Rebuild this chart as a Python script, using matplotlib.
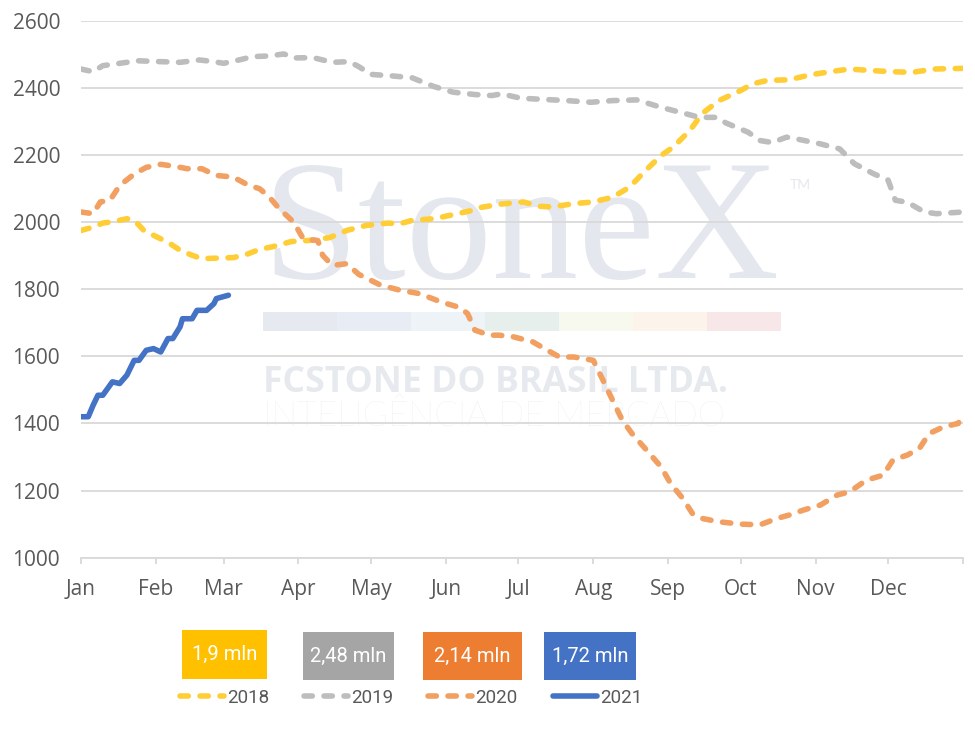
import matplotlib
matplotlib.use("Agg")
import matplotlib.pyplot as plt
from matplotlib import font_manager
from matplotlib.patches import Rectangle

# ---------------- data ----------------
months = ["Jan", "Feb", "Mar", "Apr", "May", "Jun",
          "Jul", "Aug", "Sep", "Oct", "Nov", "Dec"]
month_start_days = [0, 31, 59, 90, 120, 151, 181, 212, 243, 273, 304, 334, 365]
y_ticks = [1000, 1200, 1400, 1600, 1800, 2000, 2200, 2400, 2600]

series_names = ["2018", "2019", "2020", "2021"]
box_labels = ["1,9 mln", "2,48 mln", "2,14 mln", "1,72 mln"]

days_2018 = [0, 5, 9, 13, 19, 22, 26, 33, 37, 41, 46, 50, 58, 63, 69, 74, 79, 87,
             96, 103, 110, 118, 127, 132, 137, 146, 154, 162, 165, 173, 183, 190,
             195, 204, 212, 220, 227, 233, 240, 245, 252, 257, 264, 273, 278, 284,
             293, 302, 311, 318, 328, 336, 344, 353, 365]
vals_2018 = [1975, 1985, 1997, 2001, 2010, 2006, 1975, 1950, 1935, 1916, 1901, 1891,
             1893, 1894, 1905, 1919, 1926, 1942, 1946, 1954, 1975, 1990, 1997, 1995,
             2005, 2010, 2022, 2035, 2043, 2053, 2060, 2047, 2045, 2055, 2060, 2074,
             2104, 2149, 2198, 2223, 2273, 2323, 2362, 2392, 2412, 2422, 2424, 2439,
             2449, 2456, 2451, 2448, 2446, 2456, 2458]

days_2019 = [0, 5, 9, 19, 22, 33, 41, 49, 55, 59, 66, 71, 78, 84, 88, 96, 104, 111,
             115, 120, 128, 137, 146, 154, 163, 170, 174, 182, 190, 201, 211, 220,
             230, 240, 248, 256, 263, 267, 276, 281, 286, 292, 298, 306, 314, 320,
             328, 334, 337, 342, 349, 354, 365]
vals_2019 = [2456, 2448, 2466, 2476, 2481, 2478, 2476, 2483, 2478, 2473, 2484, 2493,
             2495, 2501, 2489, 2490, 2476, 2478, 2463, 2440, 2436, 2430, 2404, 2387,
             2380, 2377, 2382, 2369, 2366, 2362, 2357, 2362, 2364, 2342, 2327, 2312,
             2312, 2295, 2268, 2243, 2237, 2253, 2245, 2233, 2218, 2174, 2144, 2125,
             2065, 2059, 2030, 2025, 2030]

days_2020 = [0, 5, 8, 12, 16, 22, 27, 33, 38, 44, 50, 56, 63, 69, 74, 78, 82, 88, 92,
             98, 100, 104, 110, 115, 124, 132, 140, 149, 157, 160, 163, 169, 173, 179,
             187, 193, 198, 204, 212, 216, 220, 224, 228, 234, 240, 244, 249, 253,
             257, 264, 273, 281, 288, 293, 299, 306, 313, 318, 325, 332, 336, 342,
             347, 351, 357, 363, 365]
vals_2020 = [2030, 2025, 2060, 2065, 2109, 2143, 2163, 2172, 2167, 2159, 2159, 2139,
             2134, 2111, 2099, 2074, 2040, 2000, 1950, 1945, 1901, 1871, 1876, 1844,
             1812, 1797, 1787, 1762, 1745, 1727, 1678, 1663, 1663, 1658, 1643, 1618,
             1598, 1598, 1588, 1529, 1469, 1410, 1370, 1321, 1271, 1221, 1177, 1132,
             1117, 1107, 1100, 1098, 1117, 1127, 1142, 1157, 1187, 1196, 1231, 1246,
             1291, 1306, 1326, 1370, 1390, 1400, 1425]

days_2021 = [0, 3, 5, 7, 9, 12, 13, 16, 19, 22, 24, 27, 30, 33, 36, 38, 41, 42, 46,
             48, 52, 55, 56, 61]
vals_2021 = [1420, 1420, 1454, 1484, 1484, 1514, 1524, 1519, 1544, 1588, 1588, 1618,
             1623, 1613, 1653, 1653, 1688, 1712, 1712, 1737, 1737, 1757, 1772, 1782]

# ---------------- fonts ----------------
available = {f.name for f in font_manager.fontManager.ttflist}
def pick(*names):
    for n in names:
        if n in available:
            return n
    return "DejaVu Sans"

axis_font = pick("Open Sans", "Noto Sans", "DejaVu Sans")
narrow_font = pick("Liberation Sans Narrow", "Roboto", "Open Sans")
serif_font = pick("Liberation Serif", "DejaVu Serif")
wm_font = pick("Open Sans", "Lato", "DejaVu Sans")
wm_light_font = pick("Lato", "Open Sans", "DejaVu Sans")

# ---------------- figure ----------------
W, H = 975, 739
fig = plt.figure(figsize=(W / 100, H / 100), dpi=100)
def fx(x): return x / W
def fy(y): return 1 - y / H

left, right, top, bottom = 81, 963, 20.7, 557.7
ax = fig.add_axes([fx(left), fy(bottom), (right - left) / W, (bottom - top) / H])
ax.set_facecolor("none")

grid_c = "#D9D9D9"
ax.set_xlim(0, 365)
ax.set_ylim(1000, 2600)
ax.set_yticks(y_ticks)
ax.set_yticklabels([str(v) for v in y_ticks], fontfamily=axis_font, fontsize=15, color="#595959")
ax.set_xticks(month_start_days)
ax.set_xticklabels(months + [""], fontfamily=axis_font, fontsize=15, color="#595959")
ax.tick_params(axis="y", length=0, pad=15)
ax.tick_params(axis="x", length=4, width=1.3, color=grid_c, pad=11)
for s in ["top", "left", "right"]:
    ax.spines[s].set_visible(False)
ax.spines["bottom"].set_color(grid_c)
ax.spines["bottom"].set_linewidth(1.3)
ax.set_axisbelow(True)
ax.yaxis.grid(True, color=grid_c, linewidth=1.3)

# ---------------- watermark ----------------
wm = fig.transFigure
t_stone = ax.text(fx(263), fy(278), "StoneX", transform=wm, fontfamily=serif_font,
                  fontsize=123, color="#E4E8EE", ha="left", va="baseline", zorder=0.1)
ax.text(fx(790), fy(189), "TM", transform=wm, fontfamily=wm_light_font,
        fontsize=10, color="#E4E8EE", ha="left", va="baseline", zorder=0.1)
bar_colors = ["#E6E9EF", "#E8EDF5", "#EEF3F8", "#E6EFEC", "#F8F9EE", "#FCF4EA", "#F7E7E8"]
seg_w = (781 - 263) / 7
for i, c in enumerate(bar_colors):
    ax.add_patch(Rectangle((fx(263 + i * seg_w), fy(331)), seg_w / W, (331 - 311.5) / H,
                           transform=wm, facecolor=c, edgecolor="none", zorder=0.1,
                           clip_on=False))
t_fc = ax.text(fx(263), fy(392), "FCSTONE DO BRASIL LTDA.", transform=wm,
               fontfamily=wm_font, fontweight="bold", fontsize=20, color="#E6E9EE",
               ha="left", va="baseline", zorder=0.1)
t_int = ax.text(fx(263), fy(426), "INTELIGÊNCIA DE MERCADO", transform=wm,
                fontfamily=wm_light_font, fontweight="light", fontsize=20, color="#E9ECF0",
                ha="left", va="baseline", zorder=0.1)
renderer = fig.canvas.get_renderer()
for t, target in [(t_stone, 517), (t_fc, 465), (t_int, 462)]:
    w = t.get_window_extent(renderer).width
    t.set_fontsize(t.get_fontsize() * target / w)

# ---------------- lines ----------------
dash = (0, (1.5, 2.1))
lw = 4.0
l18, = ax.plot(days_2018, vals_2018, color="#FFCD36", lw=lw, linestyle=dash,
               dash_capstyle="round", zorder=2)
l19, = ax.plot(days_2019, vals_2019, color="#BDBDBD", lw=lw, linestyle=dash,
               dash_capstyle="round", zorder=2)
l20, = ax.plot(days_2020, vals_2020, color="#F2A062", lw=lw, linestyle=dash,
               dash_capstyle="round", zorder=2.1)
l21, = ax.plot(days_2021, vals_2021, color="#4472C4", lw=lw, linestyle="-",
               solid_capstyle="round", solid_joinstyle="round", zorder=2.2)

# ---------------- boxes ----------------
box_colors = ["#FFC000", "#A5A5A5", "#ED7D31", "#4472C4"]
box_px = [(182, 630, 267, 679), (303, 632, 394, 680), (423, 632, 522, 680), (544, 632, 636, 680)]
for (x0, y0, x1, y1), c, lab in zip(box_px, box_colors, box_labels):
    fig.patches.append(Rectangle((fx(x0), fy(y1)), (x1 - x0) / W, (y1 - y0) / H,
                                 transform=fig.transFigure, facecolor=c, edgecolor="none"))
    fig.text(fx((x0 + x1) / 2), fy((y0 + y1) / 2), lab, ha="center", va="center",
             color="white", fontfamily=narrow_font, fontsize=14.5)

# ---------------- legend ----------------
leg = fig.legend(handles=[l18, l19, l20, l21], labels=series_names, ncol=4,
                 loc="center", bbox_to_anchor=(fx(411), fy(698)), frameon=False,
                 handlelength=2.35, handletextpad=0.16, columnspacing=1.87,
                 prop={"family": narrow_font, "size": 13.5})
for t in leg.get_texts():
    t.set_color("#595959")

fig.savefig("out.png", dpi=100)
